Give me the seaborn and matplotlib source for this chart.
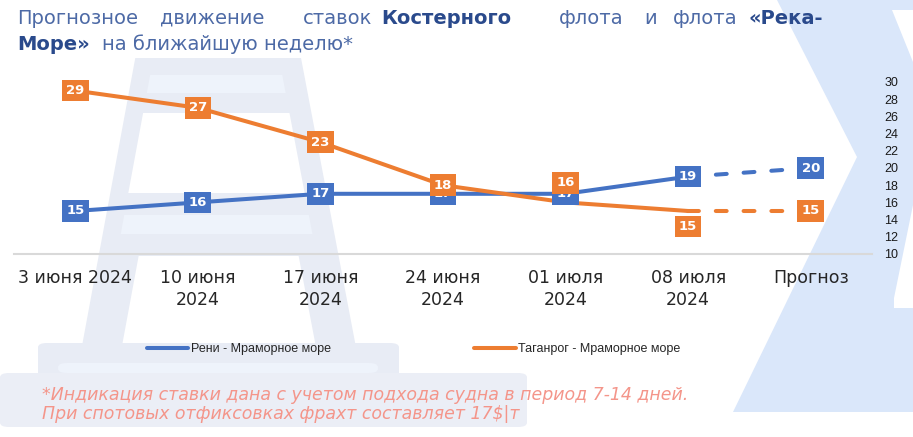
import numpy as np
import pandas as pd
import matplotlib
matplotlib.use("Agg")
import matplotlib.pyplot as plt
from matplotlib.patches import Polygon, FancyBboxPatch
import seaborn as sns

# data
dates = ["3 июня 2024", "10 июня\n2024", "17 июня\n2024", "24 июня\n2024",
         "01 июля\n2024", "08 июля\n2024", "Прогноз"]
reni = [15, 16, 17, 17, 17, 19, 20]          # Рени - Мраморное море
taganrog = [29, 27, 23, 18, 16, 15, 15]      # Таганрог - Мраморное море
reni_name = "Рени - Мраморное море"
taganrog_name = "Таганрог - Мраморное море"

BLUE = "#4472C4"
ORANGE = "#ED7D31"
W, H = 913, 437

sns.set_theme(style="white")
plt.rcParams["font.family"] = ["DejaVu Sans"]

fig = plt.figure(figsize=(W / 100, H / 100), dpi=100)
fig.patch.set_facecolor("white")


def px(x, y):
    return (x / W, 1 - y / H)


def deco(points, color, z=-5):
    fig.add_artist(Polygon([px(*p) for p in points], closed=True,
                           transform=fig.transFigure, facecolor=color,
                           edgecolor="none", zorder=z))


# background decoration (faint tower watermark + blue chevron)
GRAY, LIGHT = "#e8ecf5", "#eef3fb"
L = lambda y: 146 - 0.185 * y
R = lambda y: 290 + 0.19 * y


def band(y0, y1, il, ir, color):
    deco([(L(y0) + il, y0), (R(y0) - ir, y0), (R(y1) - ir, y1), (L(y1) + il, y1)], color, -4)


deco([(L(58), 58), (R(58), 58), (R(343), 343), (L(343), 343)], GRAY)
band(75, 93, 18, 22, LIGHT)
band(113, 193, 18, 22, "white")
band(215, 234, 18, 22, LIGHT)
band(256, 343, 40, 40, "white")
for (x0, y0, x1, y1, c) in [(38, 343, 399, 377, GRAY), (0, 373, 527, 427, "#ebeef6"),
                            (58, 363, 378, 373, LIGHT)]:
    fig.add_artist(FancyBboxPatch(px(x0, y1), (x1 - x0) / W, (y1 - y0) / H,
                                  boxstyle="round,pad=0,rounding_size=0.01",
                                  transform=fig.transFigure, facecolor=c,
                                  edgecolor="none", zorder=-4))
deco([(777, 0), (913, 0), (913, 412), (733, 412), (857, 157)], "#dae7fa")
deco([(892, 10), (913, 10), (913, 62)], "white", -3)
deco([(913, 205), (894, 298), (894, 308), (913, 308)], "white", -3)

# title, words placed one by one (justified in the original)
line1 = [("Прогнозное", 17, "normal"), ("движение", 160, "normal"), ("ставок", 303, "normal"),
         ("Костерного", 381, "bold"), ("флота", 559, "normal"), ("и", 644, "normal"),
         ("флота", 673, "normal"), ("«Река-", 748, "bold")]
line2 = [("Море»", 17, "bold"), ("на ближайшую неделю*", 102, "normal")]
for words, y in [(line1, 18), (line2, 44)]:
    for w, x, fw in words:
        fig.text(*px(x, y), w, fontsize=14, fontweight=fw, va="center", ha="left",
                 color="#2a4a8c" if fw == "bold" else "#4d6aa6")

# chart area
ax = fig.add_axes([14 / W, 1 - 254 / H, (872 - 14) / W, (254 - 82) / H])
ax.set_facecolor("none")
xs = np.arange(len(dates))
df = pd.DataFrame({"x": xs, "reni": reni, "taganrog": taganrog})
hist, fc = df.iloc[:-1], df.iloc[-2:]

sns.lineplot(data=hist, x="x", y="reni", ax=ax, color=BLUE, linewidth=2.9,
             label=reni_name, solid_capstyle="round")
sns.lineplot(data=hist, x="x", y="taganrog", ax=ax, color=ORANGE, linewidth=2.9,
             label=taganrog_name, solid_capstyle="round")
for col, c in [("reni", BLUE), ("taganrog", ORANGE)]:
    sns.lineplot(data=fc, x="x", y=col, ax=ax, color=c, linewidth=2.9,
                 linestyle=(0, (2.7, 4.2)), dash_capstyle="round")

handles, labels = ax.get_legend_handles_labels()
if ax.get_legend() is not None:
    ax.get_legend().remove()

# boxed value labels (orange drawn on top, as in the original)
reni_off = [0, 0, 0, 0, 0, 0, 0]
tag_off = [0, 0, 0, 0, 14, -11, 0]
for vals, offs, c, z in [(reni, reni_off, BLUE, 5), (taganrog, tag_off, ORANGE, 6)]:
    for i, v in enumerate(vals):
        ax.annotate(f"{v}", (xs[i], v), xytext=(0, offs[i]), textcoords="offset points",
                    ha="center", va="center", fontsize=9.5, fontweight="bold", color="white",
                    bbox=dict(boxstyle="square,pad=0.32", facecolor=c, edgecolor="none"),
                    zorder=z)

ax.set_xlim(-0.5, len(dates) - 0.5)
ax.set_ylim(10, 30)
ax.set_yticks(np.arange(10, 31, 2))
ax.yaxis.tick_right()
ax.tick_params(axis="y", length=0, pad=9, labelsize=9, labelcolor="#1a1a1a")
for t in ax.get_yticklabels():
    t.set_fontfamily(["Liberation Sans", "DejaVu Sans"])
ax.set_xticks(xs)
ax.set_xticklabels(dates, fontsize=12.5, color="#262626", linespacing=1.25)
ax.tick_params(axis="x", length=0, pad=11)
ax.set_xlabel("")
ax.set_ylabel("")
for s in ["top", "left", "right"]:
    ax.spines[s].set_visible(False)
ax.spines["bottom"].set_color("#d9d9d9")
ax.spines["bottom"].set_linewidth(1.5)

leg = fig.legend(handles, labels, loc="center", bbox_to_anchor=(0.453, 1 - 349 / H),
                 ncol=2, frameon=False, handlelength=3.3, handletextpad=0.2,
                 columnspacing=11.5,
                 prop={"family": ["Liberation Sans Narrow", "Liberation Sans"], "size": 9})

note_kw = dict(fontsize=12.5, style="italic", color="#f4958a", va="center", ha="left")
fig.text(*px(42, 395), "*Индикация ставки дана с учетом подхода судна в период 7-14 дней.", **note_kw)
fig.text(*px(42, 414), "При спотовых отфиксовках фрахт составляет 17$|т", **note_kw)

fig.savefig("out.png", dpi=100)
